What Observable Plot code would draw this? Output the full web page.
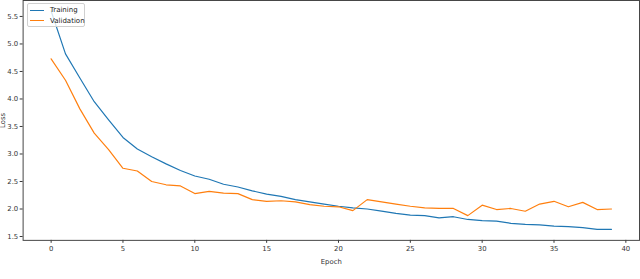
<!DOCTYPE html>
<html>
<head>
<meta charset="utf-8">
<script src="https://cdn.jsdelivr.net/npm/d3@7"></script>
<script src="https://cdn.jsdelivr.net/npm/@observablehq/plot@0.6"></script>
<style>
  html, body { margin: 0; padding: 0; background: #fff; overflow: hidden; }
  #wrap { position: relative; width: 640px; height: 279px; overflow: hidden; }
  #legend { position: absolute; left: 27px; top: 3px; width: 58px; height: 24px;
    background: rgba(255,255,255,0.8); border: 1px solid #d0d0d0; border-radius: 2px;
    font-family: "DejaVu Sans", sans-serif; font-size: 7px; color: #222; box-sizing: border-box; }
  .item { position: absolute; left: 2px; height: 8px; display: flex; align-items: center; }
  .sw { width: 14px; height: 0; border-top: 1.3px solid; margin-right: 6px; }
</style>
</head>
<body>
<div id="wrap"></div>
<script>
const epochs = d3.range(0, 40);
const training = [5.60, 4.82, 4.38, 3.95, 3.62, 3.30, 3.09, 2.95, 2.82, 2.70,
  2.60, 2.54, 2.45, 2.40, 2.33, 2.27, 2.23, 2.17, 2.13, 2.09,
  2.05, 2.02, 2.00, 1.96, 1.92, 1.89, 1.88, 1.84, 1.86, 1.81,
  1.79, 1.78, 1.74, 1.72, 1.71, 1.69, 1.68, 1.66, 1.63, 1.63];
const validation = [4.73, 4.34, 3.82, 3.38, 3.08, 2.74, 2.69, 2.50, 2.44, 2.42,
  2.28, 2.32, 2.29, 2.28, 2.17, 2.14, 2.15, 2.13, 2.08, 2.05,
  2.04, 1.97, 2.17, 2.13, 2.09, 2.05, 2.02, 2.01, 2.01, 1.88,
  2.07, 1.99, 2.01, 1.96, 2.09, 2.14, 2.04, 2.12, 1.99, 2.00];
const seriesNames = ["Training", "Validation"];
const seriesColors = ["#1f77b4", "#ff7f0e"];
const xTicks = [0, 5, 10, 15, 20, 25, 30, 35, 40];
const yTicks = [1.5, 2.0, 2.5, 3.0, 3.5, 4.0, 4.5, 5.0, 5.5];

const rows = [];
epochs.forEach((e, i) => {
  rows.push({epoch: e, loss: training[i], series: seriesNames[0]});
  rows.push({epoch: e, loss: validation[i], series: seriesNames[1]});
});

const chart = Plot.plot({
  width: 651,
  height: 279,
  marginLeft: 23,
  marginRight: 1,
  marginTop: 0,
  marginBottom: 35,
  style: {fontFamily: "DejaVu Sans, sans-serif", fontSize: "7px", color: "#333", background: "#fff"},
  x: {domain: [-1.95, 40.95], ticks: xTicks, tickFormat: d => String(d), tickSize: 3, tickPadding: 3,
      label: "Epoch", labelAnchor: "center", labelOffset: 24, labelArrow: "none"},
  y: {domain: [1.43, 5.79], ticks: yTicks, tickFormat: d => d.toFixed(1), tickSize: 3, tickPadding: 2,
      label: "Loss", labelAnchor: "center", labelOffset: 23, labelArrow: "none"},
  color: {domain: seriesNames, range: seriesColors},
  marks: [
    Plot.frame({stroke: "#444", strokeWidth: 1}),
    Plot.line(rows, {x: "epoch", y: "loss", stroke: "series", strokeWidth: 1.2})
  ]
});
document.getElementById("wrap").appendChild(chart);

const legend = document.createElement("div");
legend.id = "legend";
seriesNames.forEach((name, i) => {
  const it = document.createElement("div");
  it.className = "item";
  it.style.top = (2 + i * 10.5) + "px";
  const sw = document.createElement("span");
  sw.className = "sw";
  sw.style.borderTopColor = seriesColors[i];
  const tx = document.createElement("span");
  tx.textContent = name;
  it.appendChild(sw); it.appendChild(tx);
  legend.appendChild(it);
});
document.getElementById("wrap").appendChild(legend);
</script>
</body>
</html>
